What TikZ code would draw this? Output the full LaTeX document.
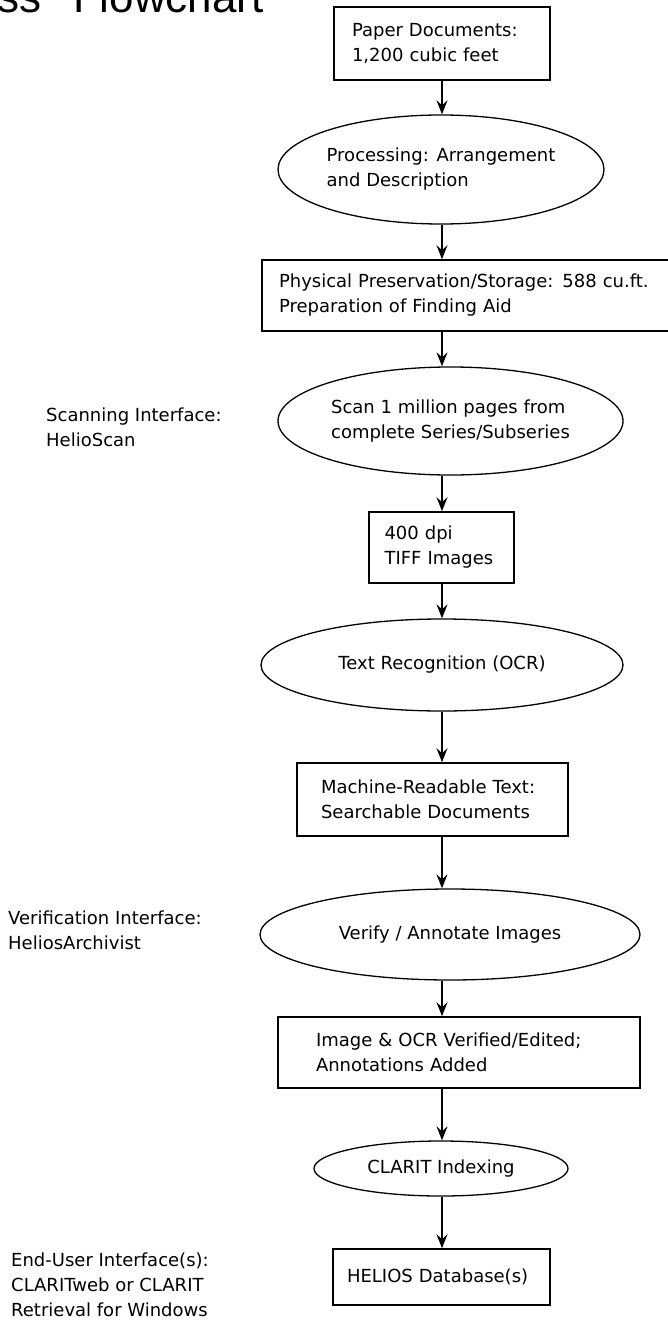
\documentclass[tikz,border=0pt]{standalone}
\usepackage{fontspec}
\setmainfont{DejaVu Sans}
\newfontfamily\headfont{Liberation Sans}
\usetikzlibrary{shapes.geometric,arrows.meta}
\newcommand{\flowfont}{\fontsize{18}{25}\selectfont}

\tikzset{
  stepbox/.style={draw, rectangle, line width=1.6pt, align=left, font=\flowfont},
  stepoval/.style={draw, ellipse, line width=1.3pt, inner sep=0pt, align=left, font=\flowfont},
  sidenote/.style={anchor=west, inner sep=0pt, align=left, font=\flowfont},
  headline/.style={inner sep=0pt, font=\headfont\fontsize{44}{48}\selectfont},
  flowarrow/.style={line width=1.4pt, -{Stealth[length=14pt,width=11pt,inset=5pt]}}
}

\begin{document}
\begin{tikzpicture}[x=1pt,y=-1pt]
		%%%%% START %%%%%
		\useasboundingbox (0,0) rectangle (667,1321);
		
		\node[headline, anchor=base east] (title) at (264,13) {Process\hspace{0.45em} Flowchart};
		\coordinate (spine) at (442,0);
		
		\node[stepbox, text width=180pt, inner xsep=18pt, minimum height=73pt] (paper) at (442,43.5) {Paper Documents:\\1,200 cubic feet};
		\node[stepoval, minimum width=326pt, minimum height=109pt] (proc) at (441,169.5) {Processing: Arrangement\\and Description};
		\node[stepbox, text width=379pt, inner xsep=17pt, minimum height=71pt] (store) at (468.5,295.5) {Physical Preservation/Storage: 588 cu.ft.\\Preparation of Finding Aid};
		
		\node[stepoval, minimum width=345pt, minimum height=108pt] (scan) at (450.5,421) {Scan 1 million pages from\\complete Series/Subseries};
		\node[stepbox, text width=114pt, inner xsep=15.5pt, minimum height=71pt] (tiff) at (441.5,547.5) {400 dpi\\TIFF Images};
		\node[stepoval, minimum width=362pt, minimum height=92pt] (ocr) at (442,665) {Text Recognition (OCR)};
		\node[stepbox, text width=223pt, inner xsep=24pt, minimum height=73pt] (machine) at (432.5,799.5) {Machine-Readable Text:\\Searchable Documents};
		
		\node[stepoval, minimum width=380pt, minimum height=91pt] (verify) at (450,934.5) {Verify / Annotate Images};
		\node[stepbox, text width=286pt, inner xsep=38pt, minimum height=71pt] (edited) at (459,1052.5) {Image \& OCR Verified/Edited;\\Annotations Added};
		\node[stepoval, minimum width=254pt, minimum height=55pt] (clarit) at (441,1168.5) {CLARIT Indexing};
		\node[stepbox, text width=189pt, inner xsep=14pt, minimum height=56pt] (helios) at (441.5,1277) {HELIOS Database(s)};
		
		% interfaces on the left
		\node[sidenote] (scanui) at (46,427.5) {Scanning Interface:\\HelioScan};
		\node[sidenote] (verifyui) at (8,930.5) {Verification Interface:\\HeliosArchivist};
		\node[sidenote] (userui) at (11,1285) {End-User Interface(s):\\CLARITweb or CLARIT\\Retrieval for Windows};
		
		\draw[flowarrow] (paper.south -| spine) -- (proc.north -| spine);
		\draw[flowarrow] (proc.south -| spine) -- (store.north -| spine);
		\draw[flowarrow] (store.south -| spine) -- (scan.north -| spine);
		\draw[flowarrow] (scan.south -| spine) -- (tiff.north -| spine);
		\draw[flowarrow] (tiff.south -| spine) -- (ocr.north -| spine);
		\draw[flowarrow] (ocr.south -| spine) -- (machine.north -| spine);
		\draw[flowarrow] (machine.south -| spine) -- (verify.north -| spine);
		\draw[flowarrow] (verify.south -| spine) -- (edited.north -| spine);
		\draw[flowarrow] (edited.south -| spine) -- (clarit.north -| spine);
		\draw[flowarrow] (clarit.south -| spine) -- (helios.north -| spine);
		
		%%%%% END %%%%%
	\end{tikzpicture}
\end{document}
